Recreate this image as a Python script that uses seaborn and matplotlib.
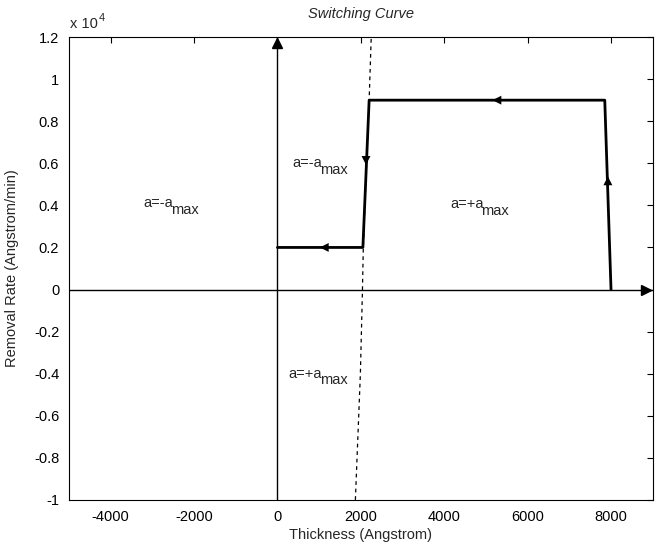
import matplotlib
matplotlib.use("Agg")
import matplotlib.pyplot as plt
import seaborn as sns
import pandas as pd
import numpy as np

# Trajectory (Thickness in Angstrom, Removal Rate in Angstrom/min)
traj_x = [8000, 7850, 2200, 2050, 0]
traj_y = [0, 9000, 9000, 2000, 2000]

# Switching curve (dashed)
sw_x = [1870, 1990, 2040, 2060, 2200, 2250]
sw_y = [-10000, -4000, 0, 2000, 9000, 12000]

# Arrow positions on trajectory (x, y, dx, dy)
arrows = [
    (7925, 5500, 0, 1),
    (5100, 9000, -1, 0),
    (2125, 5800, 0, -1),
    (960, 2000, -1, 0),
]

region_main = ["a=-a", "a=-a", "a=+a", "a=+a"]
region_sub = ["max", "max", "max", "max"]
region_x = [-3210, 360, 4140, 265]
region_y = [3900, 5810, 3860, -4190]

x_ticks = [-4000, -2000, 0, 2000, 4000, 6000, 8000]
y_ticks = [-10000, -8000, -6000, -4000, -2000, 0, 2000, 4000, 6000, 8000, 10000, 12000]
y_tick_labels = ["-1", "-0.8", "-0.6", "-0.4", "-0.2", "0", "0.2", "0.4", "0.6", "0.8", "1", "1.2"]

sns.set_style("white")
FONT = ['Liberation Sans', 'DejaVu Sans']
plt.rcParams['font.family'] = FONT
FS = 10.5

fig = plt.figure(figsize=(6.56, 5.53), dpi=100)
ax = fig.add_axes([0.105, 0.096, 0.89, 0.837])

# coordinate axes
ax.plot([0, 0], [-10000, 12000], color="black", lw=1.0)
ax.plot([-5000, 9000], [0, 0], color="black", lw=1.0)
ax.plot([0], [12000 - 280], marker="^", color="black", ms=7, clip_on=False)
ax.plot([9000 - 170], [0], marker=">", color="black", ms=7, clip_on=False)

sw = pd.DataFrame({"x": sw_x, "y": sw_y})
sns.lineplot(data=sw, x="x", y="y", sort=False, ax=ax, color="black", lw=0.9,
             linestyle=(0, (3, 3)), estimator=None)

tr = pd.DataFrame({"x": traj_x, "y": traj_y})
sns.lineplot(data=tr, x="x", y="y", sort=False, ax=ax, color="black", lw=2.0, estimator=None)

for (xa, ya, dx, dy) in arrows:
    ax.annotate("", xy=(xa + dx * 10, ya + dy * 10), xytext=(xa - dx * 200, ya - dy * 300),
                arrowprops=dict(arrowstyle="-|>", color="black", lw=0, mutation_scale=16))

for lbl, sub, xx, yy in zip(region_main, region_sub, region_x, region_y):
    t = ax.text(xx, yy, lbl, fontsize=FS, ha="left", va="baseline")
    ax.annotate(sub, xy=(1, 0), xycoords=t, xytext=(-1.5, -4.5), textcoords="offset points",
                fontsize=FS, ha="left", va="bottom")

ax.set_xlim(-5000, 9000)
ax.set_ylim(-10000, 12000)
ax.set_xticks(x_ticks)
ax.set_xticklabels([str(t) for t in x_ticks])
ax.set_yticks(y_ticks)
ax.set_yticklabels(y_tick_labels)
ax.tick_params(direction="in", length=4, width=0.8, top=True, right=True,
               labelsize=FS, colors="black")
ax.tick_params(axis="x", pad=7)
ax.tick_params(axis="y", pad=7)
ax.tick_params(axis="x", labeltop=False)
ax.tick_params(axis="y", labelright=False)
for s in ax.spines.values():
    s.set_color("black")
    s.set_linewidth(0.8)
ax.set_xlabel("Thickness (Angstrom)", fontsize=FS, labelpad=3)
ax.set_ylabel("Removal Rate (Angstrom/min)", fontsize=FS, labelpad=11)
ax.set_title("Switching Curve", fontsize=FS, style="italic", pad=14)
t = ax.text(0.002, 1.012, "x 10", transform=ax.transAxes, fontsize=FS, ha="left", va="bottom")
ax.annotate("4", xy=(1, 1), xycoords=t, xytext=(0.5, -4), textcoords="offset points",
            fontsize=FS * 0.75, ha="left", va="bottom")

fig.savefig("out.png", dpi=100)
